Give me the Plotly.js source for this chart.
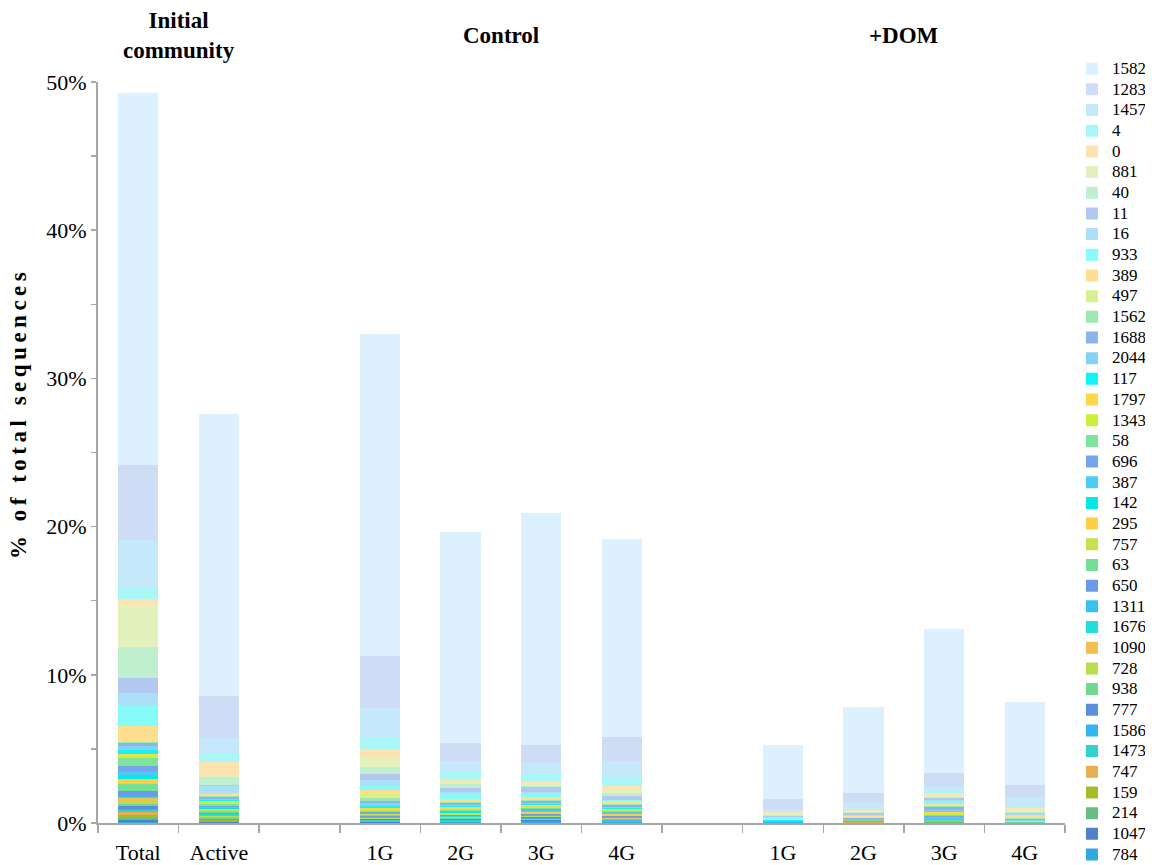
<!DOCTYPE html>
<html>
<head>
<meta charset="utf-8">
<script src="https://cdn.plot.ly/plotly-3.0.1.min.js"></script>
<style>
html,body{margin:0;padding:0;background:#fff;}
#chart{width:1152px;height:865px;}
</style>
</head>
<body>
<div id="chart"></div>
<script>
// Category labels (empty strings are spacer slots between groups)
const categories = ['Total','Active','','1G','2G','3G','4G','','1G','2G','3G','4G'];

// Series (OTU ids), listed top of stack -> bottom of stack (legend order)
const seriesNames = ['1582','1283','1457','4','0','881','40','11','16','933','389','497','1562','1688','2044','117','1797','1343','58','696','387','142','295','757','63','650','1311','1676','1090','728','938','777','1586','1473','747','159','214','1047','784'];

const seriesColors = ['#dcf0fd','#cfdcf6','#c6e8fb','#aaf7f7','#fde3b2','#e3f1bd','#c0efcf','#b2c8f1','#addff8','#86fbf8','#fedf90','#d9f091','#9de9b0','#8db3ee','#85d2f6','#0ff5f5','#fdd745','#cbee3a','#7ee49a','#74a6ee','#4cccf4','#05e8e8','#fdcf45','#c6e24a','#74de92','#6a9ae8','#38c0f2','#22dede','#f0c050','#b8de4e','#70d890','#5c8ee0','#34b4f0','#30d4cc','#e4b050','#a4bc2a','#68be80','#5080c8','#30a8e4'];

// % of total sequences per series (same order as seriesNames), one array per bar
const initialTotal = [25.1,5.09,3.24,0.74,0.38,2.86,2.07,1.03,0.86,1.35,1.01,0.07,0.05,0.25,0.27,0.27,0.13,0.09,0.54,0.45,0.18,0.27,0.27,0.09,0.43,0.34,0.07,0.07,0.29,0.11,0.18,0.16,0.11,0.09,0.23,0.18,0.16,0.11,0.09];
const initialActive = [19.05,2.84,1.05,0.56,0.9,0.12,0.51,0.05,0.51,0.05,0.1,0.08,0.05,0.1,0.08,0.05,0.1,0.12,0.15,0.05,0.08,0.06,0.05,0.1,0.12,0.05,0.05,0.08,0.03,0.08,0.1,0.03,0.03,0.02,0.03,0.08,0.05,0.02,0.03];
const control1G = [21.73,3.49,2.02,0.77,0.58,0.61,0.49,0.41,0.38,0.29,0.27,0.23,0.23,0.17,0.16,0.14,0.15,0.06,0.05,0.06,0.04,0.03,0.05,0.06,0.04,0.05,0.03,0.03,0.04,0.05,0.03,0.04,0.03,0.02,0.04,0.04,0.03,0.02,0.03];
const control2G = [14.24,1.19,0.76,0.45,0.16,0.18,0.29,0.22,0.09,0.41,0.11,0.11,0.05,0.15,0.08,0.05,0.1,0.06,0.08,0.05,0.05,0.04,0.08,0.04,0.04,0.05,0.04,0.04,0.05,0.03,0.06,0.04,0.05,0.03,0.03,0.02,0.03,0.02,0.04];
const control3G = [15.62,1.2,0.72,0.51,0.18,0.14,0.13,0.3,0.15,0.18,0.18,0.05,0.07,0.1,0.08,0.09,0.09,0.09,0.08,0.09,0.09,0.05,0.04,0.04,0.03,0.04,0.06,0.03,0.03,0.03,0.03,0.03,0.08,0.03,0.02,0.02,0.02,0.03,0.15];
const control4G = [13.39,1.58,1.16,0.56,0.25,0.2,0.23,0.23,0.05,0.05,0.1,0.1,0.05,0.12,0.1,0.06,0.08,0.05,0.06,0.05,0.08,0.05,0.06,0.05,0.03,0.05,0.05,0.03,0.03,0.02,0.03,0.02,0.05,0.02,0.02,0.02,0.02,0.02,0.06];
const dom1G = [3.67,0.67,0.16,0.07,0.11,0.07,0.05,0.05,0.11,0.02,0.06,0.03,0.02,0.01,0.01,0.01,0.01,0.02,0.02,0.005,0.005,0.005,0.005,0.01,0.01,0.005,0.005,0.005,0.005,0.005,0.005,0.005,0.005,0.005,0.005,0.005,0.005,0.005,0.005];
const dom2G = [5.83,0.6,0.45,0.11,0.05,0.07,0.06,0.16,0.05,0.03,0.03,0.04,0.04,0.03,0.05,0.03,0.02,0.02,0.02,0.008,0.008,0.008,0.008,0.008,0.008,0.008,0.008,0.008,0.008,0.008,0.008,0.008,0.008,0.008,0.008,0.008,0.008,0.008,0.008];
const dom3G = [9.77,0.84,0.4,0.11,0.12,0.11,0.1,0.13,0.15,0.12,0.07,0.07,0.04,0.22,0.09,0.07,0.11,0.07,0.07,0.09,0.13,0.04,0.012,0.012,0.012,0.012,0.012,0.012,0.012,0.012,0.012,0.012,0.012,0.012,0.012,0.012,0.012,0.012,0.012];
const dom4G = [5.58,0.81,0.67,0.09,0.14,0.09,0.07,0.07,0.11,0.05,0.07,0.09,0.07,0.05,0.03,0.02,0.02,0.02,0.02,0.004,0.004,0.004,0.004,0.004,0.004,0.004,0.004,0.004,0.004,0.004,0.004,0.004,0.004,0.004,0.004,0.004,0.004,0.004,0.004];

// Column order matching categories (null = spacer)
const columns = [initialTotal, initialActive, null, control1G, control2G, control3G, control4G, null, dom1G, dom2G, dom3G, dom4G];

const groupLabels = [
  {text:'<b>Initial<br>community</b>', at:0.5},
  {text:'<b>Control</b>', at:4.5},
  {text:'<b>+DOM</b>', at:9.5}
];
const yTitle = '<b>% of total sequences</b>';

const xIdx = categories.map((c,i)=>i);
const serif = 'Liberation Serif, Times New Roman, serif';

const traces = [];
for (let s = seriesNames.length - 1; s >= 0; s--) {
  traces.push({
    type:'bar',
    name: seriesNames[s],
    x: xIdx,
    y: columns.map(col => col ? col[s] : null),
    width: 0.5,
    marker:{color: seriesColors[s], line:{width:0}},
    hovertemplate: '%{y}%<extra>'+seriesNames[s]+'</extra>'
  });
}

const tickPos = xIdx.filter(i => categories[i] !== '');
const boundaries = [];
for (let i = 0; i <= categories.length; i++) boundaries.push(i - 0.5);

const annotations = groupLabels.map(g => ({
  text:g.text, x:g.at, xref:'x', y:1.063, yref:'paper',
  xanchor:'center', yanchor:'middle', showarrow:false,
  font:{family:serif, size:23, color:'#000'}
}));
annotations.push({
  text:yTitle, textangle:-90, x:-0.083, xref:'paper', y:0.553, yref:'paper',
  xanchor:'center', yanchor:'middle', showarrow:false,
  font:{family:serif, size:23, color:'#000'}
});

const layout = {
  width:1152, height:865,
  paper_bgcolor:'#fff', plot_bgcolor:'#fff',
  margin:{l:98, r:87, t:82, b:42, autoexpand:false},
  barmode:'stack',
  showlegend:true,
  font:{family:serif, color:'#000'},
  xaxis:{
    range:[-0.5, categories.length - 0.5],
    tickmode:'array', tickvals: tickPos, ticktext: tickPos.map(i=>categories[i]),
    ticks:'', showgrid:false, zeroline:false,
    showline:true, linecolor:'#a6a6a6', linewidth:2,
    tickfont:{family:serif, size:22, color:'#000'},
    ticklabelstandoff:9,
    minor:{tickmode:'array', tickvals: boundaries, ticks:'outside', ticklen:8, tickwidth:1.5, tickcolor:'#a6a6a6', showgrid:false},
    fixedrange:true
  },
  yaxis:{
    range:[0,50], tick0:0, dtick:10, ticksuffix:'%',
    ticks:'outside', ticklen:5, tickwidth:1.5, tickcolor:'#a6a6a6',
    showgrid:false, zeroline:false,
    showline:true, linecolor:'#a6a6a6', linewidth:2,
    tickfont:{family:serif, size:22, color:'#000'},
    minor:{dtick:5, ticks:'outside', ticklen:5, tickwidth:1.5, tickcolor:'#a6a6a6', showgrid:false},
    fixedrange:true
  },
  legend:{
    x:1.0072, xanchor:'left', y:1.0387, yanchor:'top',
    traceorder:'reversed', maxheight:865,
    font:{family:serif, size:13.6, color:'#000'},
    bgcolor:'rgba(0,0,0,0)', borderwidth:0,
    itemwidth:30, tracegroupgap:0
  },
  annotations: annotations
};

Plotly.newPlot('chart', traces, layout, {displayModeBar:false, staticPlot:true}).then(gd => {
  // slightly larger legend glyphs while keeping the compact row spacing
  gd.querySelectorAll('.legendtext').forEach(t => { t.style.fontSize = '17px'; });
  // the reference's axis title is drawn stretched along its length
  const ann = gd.querySelectorAll('.annotation-text');
  if (ann.length) ann[ann.length - 1].style.letterSpacing = '4.5px';
});
</script>
</body>
</html>
